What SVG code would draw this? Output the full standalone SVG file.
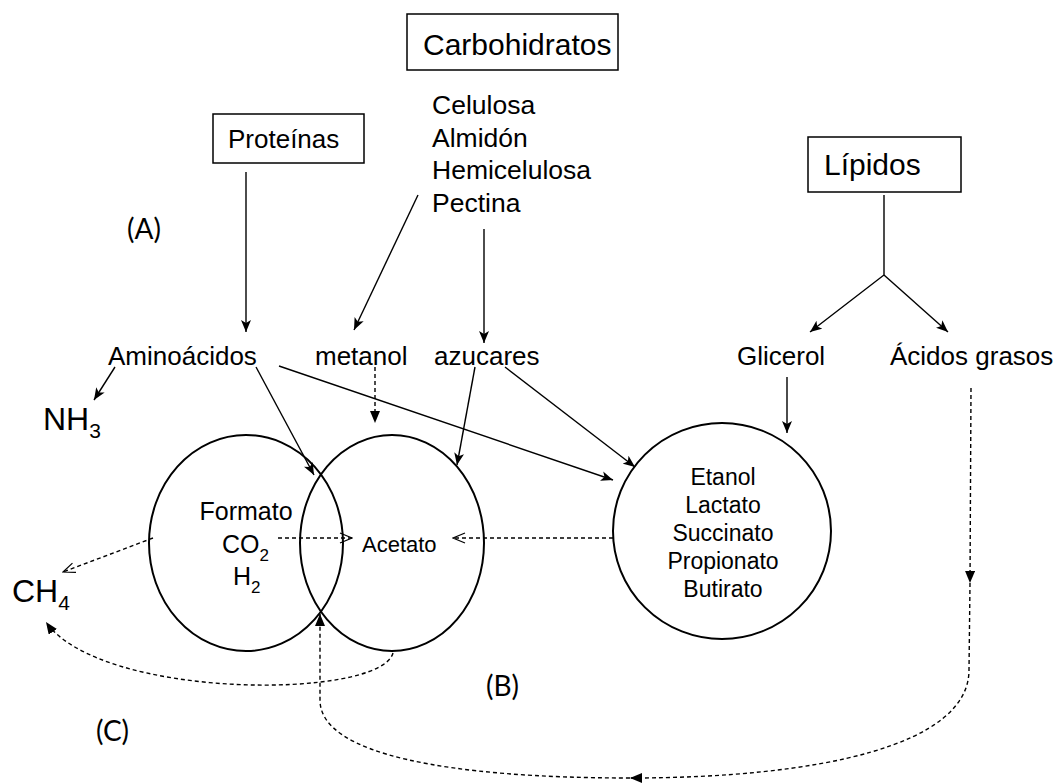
<svg xmlns="http://www.w3.org/2000/svg" width="1063" height="784" viewBox="0 0 1063 784">
<style>
text{font-family:"Liberation Sans",Arial,sans-serif;fill:#000}
.lbl{font-family:Lato,"Open Sans",sans-serif;font-size:28px}
.box{fill:#fff;stroke:#000;stroke-width:1.5}
.circ{fill:none;stroke:#000;stroke-width:2}
.ln{fill:none;stroke:#000;stroke-width:1.4}
.ds{fill:none;stroke:#000;stroke-width:1.4;stroke-dasharray:4 3}
</style>
<defs>
<marker id="af" viewBox="0 0 12 10" refX="12" refY="5" markerWidth="12" markerHeight="10" markerUnits="userSpaceOnUse" orient="auto">
<path d="M0,0 L12,5 L0,10 L3,5 z" fill="#000"/>
</marker>
<marker id="tf" viewBox="0 0 12 10" refX="12" refY="5" markerWidth="12" markerHeight="10" markerUnits="userSpaceOnUse" orient="auto">
<path d="M0,0 L12,5 L0,10 z" fill="#000"/>
</marker>
<marker id="ao" viewBox="0 0 14 12" refX="13" refY="6" markerWidth="14" markerHeight="12" markerUnits="userSpaceOnUse" orient="auto">
<path d="M1,1 L13,6 L1,11" fill="none" stroke="#000" stroke-width="1.2"/>
</marker>
</defs>

<g id="connectors">
<path class="ln" d="M246,172 L246,332" marker-end="url(#af)"/>
<path class="ln" d="M418,195 L354,330" marker-end="url(#af)"/>
<path class="ln" d="M484,229 L484,343" marker-end="url(#af)"/>
<path class="ln" d="M884,195 L884,275 L810,332" marker-end="url(#af)"/>
<path class="ln" d="M884,275 L948,332" marker-end="url(#af)"/>
<path class="ln" d="M787,377 L787,433" marker-end="url(#af)"/>
<path class="ln" d="M115,367 L94,400" marker-end="url(#af)"/>
<path class="ln" d="M256,367 L314,475" marker-end="url(#af)"/>
<path class="ln" d="M279,366 L613,480" marker-end="url(#af)"/>
<path class="ln" d="M475,367 L457,465" marker-end="url(#af)"/>
<path class="ln" d="M505,367 L635,467" marker-end="url(#af)"/>
<path class="ds" d="M375,367 L375,423" marker-end="url(#tf)"/>
<path class="ds" d="M278,538 L352,538" marker-end="url(#ao)"/>
<path class="ds" d="M613,538 L453,538" marker-end="url(#ao)"/>
<path class="ds" d="M153,538 L63,572" marker-end="url(#ao)"/>
<path class="ds" d="M393,653 C380,700 100,700 46,622" marker-end="url(#tf)"/>
<path class="ds" d="M971,388 L970,583" marker-end="url(#tf)"/>
<path class="ds" d="M970,583 L969,670 C969,745 820,778 630,778" marker-end="url(#tf)"/>
<path class="ds" d="M630,778 C450,778 320,755 320,700 L320,614" marker-end="url(#tf)"/>
</g>

<g id="carbohidratos">
<rect class="box" x="407" y="14" width="211" height="56"/>
<text x="423" y="55" font-size="30">Carbohidratos</text>
</g>
<g id="polisacaridos">
<text x="432" y="114" font-size="26.5">Celulosa</text>
<text x="432" y="147" font-size="26.5">Almidón</text>
<text x="432" y="179" font-size="26.5">Hemicelulosa</text>
<text x="432" y="212" font-size="26.5">Pectina</text>
</g>
<g id="proteinas">
<rect class="box" x="213" y="114" width="151" height="49"/>
<text x="228" y="148" font-size="26">Proteínas</text>
</g>
<g id="lipidos">
<rect class="box" x="808" y="137" width="153" height="55"/>
<text x="824" y="175" font-size="30">Lípidos</text>
</g>
<g id="label-a"><text class="lbl" x="127" y="239">(A)</text></g>
<g id="label-b"><text class="lbl" x="486" y="696">(B)</text></g>
<g id="label-c"><text class="lbl" x="96" y="741">(C)</text></g>
<g id="aminoacidos"><text x="108" y="365" font-size="26">Aminoácidos</text></g>
<g id="metanol"><text x="315" y="365" font-size="26">metanol</text></g>
<g id="azucares"><text x="434" y="365" font-size="26">azucares</text></g>
<g id="glicerol"><text x="737" y="365" font-size="26">Glicerol</text></g>
<g id="acidos-grasos"><text x="890" y="365" font-size="26">Ácidos grasos</text></g>
<g id="nh3"><text x="43" y="430" font-size="32">NH<tspan font-size="21" dy="8">3</tspan></text></g>
<g id="ch4"><text x="12" y="602" font-size="32">CH<tspan font-size="21" dy="8">4</tspan></text></g>
<g id="circulo-formato">
<ellipse class="circ" cx="246" cy="543" rx="97" ry="108"/>
<text x="246" y="520" font-size="25" text-anchor="middle">Formato</text>
<text x="222" y="553" font-size="25">CO<tspan font-size="17" dy="8">2</tspan></text>
<text x="233" y="585" font-size="25">H<tspan font-size="17" dy="8">2</tspan></text>
</g>
<g id="circulo-acetato">
<ellipse class="circ" cx="392" cy="543" rx="92" ry="108"/>
<text x="362" y="552" font-size="22">Acetato</text>
</g>
<g id="circulo-acidos">
<ellipse class="circ" cx="722" cy="531" rx="109" ry="108"/>
<text x="723" y="485" font-size="23" text-anchor="middle">Etanol</text>
<text x="723" y="513" font-size="23" text-anchor="middle">Lactato</text>
<text x="723" y="541" font-size="23" text-anchor="middle">Succinato</text>
<text x="723" y="569" font-size="23" text-anchor="middle">Propionato</text>
<text x="723" y="597" font-size="23" text-anchor="middle">Butirato</text>
</g>
</svg>
